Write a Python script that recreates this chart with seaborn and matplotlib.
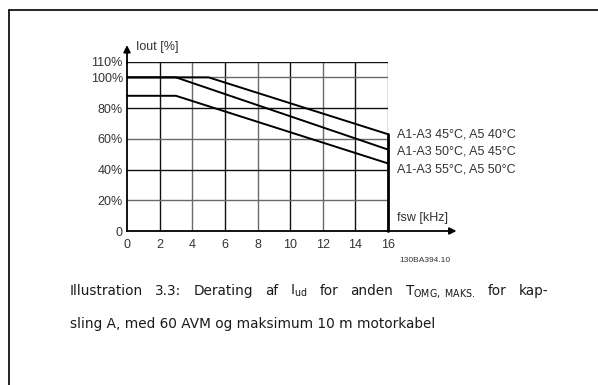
import matplotlib
matplotlib.use("Agg")
import matplotlib.pyplot as plt
import seaborn as sns
import pandas as pd

# Derating curves: switching frequency (kHz) vs. output current (%)
fsw_top = [0, 5, 16]
iout_top = [100, 100, 63]
fsw_mid = [0, 3, 16]
iout_mid = [100, 100, 53]
fsw_low = [0, 3, 16]
iout_low = [88, 88, 44]
curve_labels = ["A1-A3 45°C, A5 40°C", "A1-A3 50°C, A5 45°C", "A1-A3 55°C, A5 50°C"]

x_ticks = [0, 2, 4, 6, 8, 10, 12, 14, 16]
y_ticks = [0, 20, 40, 60, 80, 100, 110]
y_tick_labels = ["0", "20%", "40%", "60%", "80%", "100%", "110%"]
y_minor = [10, 30, 50, 70, 90]

caption_line1 = ["Illustration", "3.3:", "Derating", "af", r"I$_{\mathregular{ud}}$", "for",
                 "anden", r"T$_{\mathregular{OMG,\ MAKS.}}$", "for", "kap-"]
caption_line2 = "sling A, med 60 AVM og maksimum 10 m motorkabel"

frames = []
for xs, ys, lab in zip([fsw_top, fsw_mid, fsw_low], [iout_top, iout_mid, iout_low], curve_labels):
    frames.append(pd.DataFrame({"fsw": xs, "iout": ys, "curve": lab}))
df = pd.concat(frames, ignore_index=True)

sns.set_style("white")
plt.rcParams["font.family"] = ["Liberation Sans", "DejaVu Sans"]
plt.rcParams["mathtext.fontset"] = "custom"
plt.rcParams["mathtext.rm"] = "DejaVu Sans"

W, H = 598, 385
fig = plt.figure(figsize=(W / 100, H / 100), dpi=100)

# page frame (top and left rule)
fig.add_artist(plt.Line2D([9 / W, 1.0], [1 - 10 / H, 1 - 10 / H], color="black", lw=1.2))
fig.add_artist(plt.Line2D([9 / W, 9 / W], [0, 1 - 10 / H], color="black", lw=1.2))

x0, x1, y0, y1 = 127, 388, 231, 62
ax = fig.add_axes([x0 / W, 1 - y0 / H, (x1 - x0) / W, (y0 - y1) / H])
ax.set_xlim(0, 16)
ax.set_ylim(0, 110)

grid_cols = ["#111111", "#6a6a6a"]
for i, xv in enumerate(x_ticks[1:]):
    ax.axvline(xv, color=grid_cols[i % 2], lw=1.0, zorder=1)
for i, yv in enumerate(y_ticks[1:]):
    ax.axhline(yv, color=grid_cols[(i + 1) % 2], lw=1.0, zorder=1)

sns.lineplot(data=df, x="fsw", y="iout", hue="curve", palette=["black"] * 3,
             legend=False, ax=ax, lw=1.4, zorder=3, clip_on=False, sort=False,
             estimator=None)

for s in ["top", "right"]:
    ax.spines[s].set_visible(False)
for s in ["left", "bottom"]:
    ax.spines[s].set_linewidth(1.3)
    ax.spines[s].set_color("black")

# thick right edge below the end of the curves
ax.plot([16, 16], [0, max(iout_top[-1], iout_mid[-1], iout_low[-1])],
        color="black", lw=2.0, zorder=4, clip_on=False)

ax.set_xticks(x_ticks)
ax.set_xticklabels([str(v) for v in x_ticks])
ax.set_yticks(y_ticks)
ax.set_yticklabels(y_tick_labels)
ax.set_yticks(y_minor, minor=True)
ax.tick_params(axis="both", which="major", direction="out", length=4, width=1,
               color="black", labelsize=9, labelcolor="#333333", pad=2)
ax.tick_params(axis="y", which="minor", direction="out", length=4, width=1, color="black")
ax.tick_params(axis="y", which="major", length=0, pad=3)
ax.set_xlabel("")
ax.set_ylabel("")

# axis arrows
ax.annotate("", xy=(20.2, 0), xytext=(15.9, 0), xycoords="data",
            arrowprops=dict(arrowstyle="-|>", color="black", lw=1.3,
                            mutation_scale=10, shrinkA=0, shrinkB=0),
            annotation_clip=False)
ax.annotate("", xy=(0, 121), xytext=(0, 109), xycoords="data",
            arrowprops=dict(arrowstyle="-|>", color="black", lw=1.3,
                            mutation_scale=10, shrinkA=0, shrinkB=0),
            annotation_clip=False)

ax.text(0.55, 119.5, "Iout [%]", fontsize=9, color="#333333", va="center", ha="left",
        clip_on=False)
ax.text(16.55, 8.5, "fsw [kHz]", fontsize=9, color="#333333", va="center", ha="left",
        clip_on=False)

for lab, yv in zip(curve_labels, [63, 51.5, 40]):
    ax.text(16.55, yv, lab, fontsize=9, color="#333333", va="center", ha="left",
            clip_on=False)

ax.text(16.7, -19, "130BA394.10", fontsize=6, color="#333333", va="center", ha="left",
        clip_on=False)

# caption: first line justified between the margins, second line ragged
cap_size = 9.8
cap_left, cap_right = 70, 548
renderer = fig.canvas.get_renderer()
words = [fig.text(0, 1 - 295 / H, w, fontsize=cap_size, family="DejaVu Sans",
                  color="#1a1a1a", va="baseline", ha="left") for w in caption_line1]
widths = [t.get_window_extent(renderer).width for t in words]
gap = ((cap_right - cap_left) - sum(widths)) / (len(words) - 1)
xpos = cap_left
for t, w in zip(words, widths):
    t.set_x(xpos / W)
    xpos += w + gap
fig.text(cap_left / W, 1 - 328 / H, caption_line2, fontsize=cap_size, family="DejaVu Sans",
         color="#1a1a1a", va="baseline", ha="left")

fig.savefig("out.png", dpi=100, facecolor="white")
